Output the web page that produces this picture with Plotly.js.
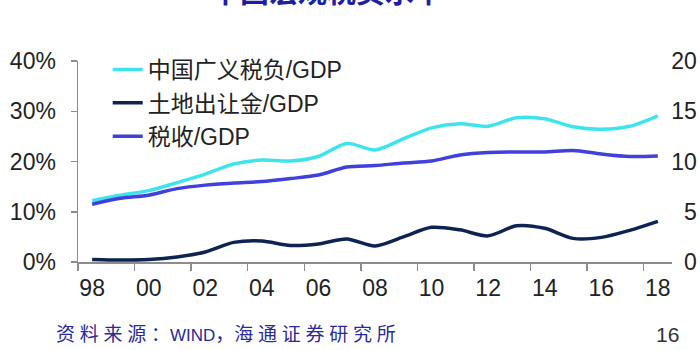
<!DOCTYPE html>
<html>
<head>
<meta charset="utf-8">
<script src="https://cdn.plot.ly/plotly-3.0.1.min.js"></script>
<style>
  html, body { margin: 0; padding: 0; background: #ffffff; }
  #chart { width: 700px; height: 350px; }
</style>
</head>
<body>
<div id="chart"></div>
<script>
// Years (x categories)
const years = [1998, 1999, 2000, 2001, 2002, 2003, 2004, 2005, 2006, 2007, 2008,
               2009, 2010, 2011, 2012, 2013, 2014, 2015, 2016, 2017, 2018];

// 中国广义税负/GDP (%)
const broadTaxBurden = [12.2, 13.3, 14.2, 15.8, 17.5, 19.5, 20.3, 20.1, 21.0, 23.6, 22.3,
                        24.5, 26.7, 27.5, 27.0, 28.7, 28.5, 26.9, 26.4, 27.0, 29.1];

// 土地出让金/GDP (%)
const landSales = [0.5, 0.4, 0.5, 1.0, 2.0, 3.9, 4.2, 3.3, 3.6, 4.6, 3.2,
                   5.0, 6.9, 6.4, 5.2, 7.2, 6.7, 4.7, 4.9, 6.3, 8.1];

// 税收/GDP (%)
const taxRevenue = [11.5, 12.7, 13.3, 14.6, 15.3, 15.7, 16.0, 16.6, 17.3, 18.9, 19.2,
                    19.7, 20.1, 21.3, 21.8, 21.9, 21.9, 22.2, 21.5, 21.0, 21.1];

const seriesNames = ['中国广义税负/GDP', '土地出让金/GDP', '税收/GDP'];

// x tick labels
const xTickVals = [1998, 2000, 2002, 2004, 2006, 2008, 2010, 2012, 2014, 2016, 2018];
const xTickText = ['98', '00', '02', '04', '06', '08', '10', '12', '14', '16', '18'];
// tick marks sit between categories
const xTickMarks = [1997.5, 1999.5, 2001.5, 2003.5, 2005.5, 2007.5, 2009.5, 2011.5, 2013.5, 2015.5, 2017.5];

// left axis ticks
const yLeftTicks = [0, 10, 20, 30, 40];
const yLeftText = ['0%', '10%', '20%', '30%', '40%'];
// right axis ticks
const yRightTicks = [0, 5, 10, 15, 20];
const yRightText = ['\u20070', '\u20075', '10', '15', '20'];

const FONT = '"Liberation Sans", Arial, "Noto Sans CJK SC", sans-serif';
const CJK = '"Noto Sans CJK SC", "Liberation Sans", sans-serif';

const traces = [
  { x: years, y: broadTaxBurden, name: seriesNames[0], legendgroup: 'a',
    type: 'scatter', mode: 'lines',
    line: { color: '#3EE4EC', width: 3.5, shape: 'spline', smoothing: 0.8 } },
  { x: years, y: landSales, name: seriesNames[1], legendgroup: 'b',
    type: 'scatter', mode: 'lines',
    line: { color: '#0E2352', width: 3.5, shape: 'spline', smoothing: 0.8 } },
  { x: years, y: taxRevenue, name: seriesNames[2], legendgroup: 'c',
    type: 'scatter', mode: 'lines',
    line: { color: '#4040DA', width: 3.5, shape: 'spline', smoothing: 0.8 } }
];

const layout = {
  width: 700, height: 350,
  margin: { l: 78, r: 28, t: 61, b: 88 },
  paper_bgcolor: '#ffffff', plot_bgcolor: '#ffffff',
  font: { family: FONT, color: '#222222', size: 23 },
  showlegend: true,
  legend: {
    x: 0.05, xanchor: 'left', y: 1.065, yanchor: 'top',
    bgcolor: 'rgba(0,0,0,0)', borderwidth: 0,
    font: { family: FONT, size: 23, color: '#222222' },
    tracegroupgap: 0.5, itemclick: false
  },
  xaxis: {
    range: [1997.5, 2018.5],
    tickmode: 'array', tickvals: xTickVals, ticktext: xTickText,
    ticks: '', showgrid: false, zeroline: false,
    showline: true, linecolor: '#8c8c8c', linewidth: 1.5,
    ticklabelstandoff: 5,
    tickfont: { family: FONT, size: 23, color: '#222222' },
    minor: { tickmode: 'array', tickvals: xTickMarks, ticks: 'outside', ticklen: 7,
             tickcolor: '#8c8c8c', tickwidth: 1.5, showgrid: false }
  },
  yaxis: {
    range: [0, 40],
    tickmode: 'array', tickvals: yLeftTicks, ticktext: yLeftText,
    ticks: 'outside', ticklen: 6, tickcolor: '#8c8c8c', tickwidth: 1.5,
    showgrid: false, zeroline: false,
    showline: true, linecolor: '#8c8c8c', linewidth: 1.5,
    ticklabelstandoff: 10,
    tickfont: { family: FONT, size: 23, color: '#222222' }
  },
  yaxis2: {
    range: [0, 20], overlaying: 'y', side: 'right', anchor: 'free', position: 0.997,
    tickmode: 'array', tickvals: yRightTicks, ticktext: yRightText,
    ticks: '', showgrid: false, zeroline: false, showline: false,
    tickfont: { family: FONT, size: 23, color: '#222222' }
  },
  annotations: [
    { text: '中国宏观税负水平', xref: 'paper', yref: 'paper', x: 0.42, y: 1.24,
      xanchor: 'center', yanchor: 'bottom', showarrow: false,
      font: { family: CJK, size: 29, color: '#1E1EA0', weight: 'bold' } },
    { text: '资\u2005料\u2005来\u2005源\u2005：<span style="font-family:Liberation Sans;font-size:17px">WIND</span>，海\u2005通\u2005证\u2005券\u2005研\u2005究\u2005所',
      xref: 'paper', yref: 'paper', x: -0.04, y: -0.35,
      xanchor: 'left', yanchor: 'middle', showarrow: false,
      font: { family: CJK, size: 19, color: '#2A2A95' } },
    { text: '16', xref: 'paper', yref: 'paper', x: 1.015, y: -0.36,
      xanchor: 'right', yanchor: 'middle', showarrow: false,
      font: { family: FONT, size: 21, color: '#333333' } }
  ]
};

// dummy trace to activate right axis (no visible marks)
traces.push({ x: [years[0]], y: [0], yaxis: 'y2', type: 'scatter', mode: 'none',
              showlegend: false, hoverinfo: 'skip' });

Plotly.newPlot('chart', traces, layout, { displayModeBar: false, staticPlot: true });
</script>
</body>
</html>
